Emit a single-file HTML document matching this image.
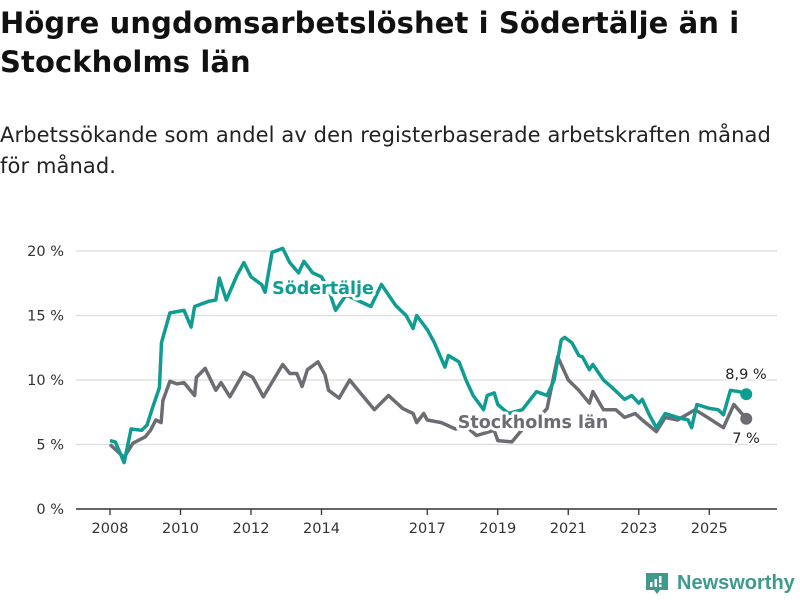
<!DOCTYPE html>
<html><head><meta charset="utf-8">
<style>
body{margin:0;background:#fff;width:800px;height:600px;overflow:hidden;font-family:"DejaVu Sans","Liberation Sans",sans-serif;}
h1{position:absolute;left:0;top:4px;margin:0;font-size:29px;line-height:39px;font-weight:bold;color:#111;letter-spacing:0.1px;}
.sub{position:absolute;left:0;top:120px;font-size:21px;line-height:31px;color:#222;letter-spacing:0.1px;}
svg{position:absolute;left:0;top:0;font-family:"DejaVu Sans","Liberation Sans",sans-serif;}
</style></head>
<body>
<h1>Högre ungdomsarbetslöshet i Södertälje än i<br>Stockholms län</h1>
<div class="sub">Arbetssökande som andel av den registerbaserade arbetskraften månad<br>för månad.</div>
<svg id="chart" width="800" height="600"></svg>
<script>
const yTicks=[0,5,10,15,20];
const yTickLabels=["0 %","5 %","10 %","15 %","20 %"];
const xTicks=[2008,2010,2012,2014,2017,2019,2021,2023,2025];
const sodDates=[2008.0,2008.15,2008.4,2008.6,2008.9,2009.05,2009.2,2009.4,2009.46,2009.7,2009.9,2010.1,2010.3,2010.4,2010.8,2011.0,2011.1,2011.3,2011.6,2011.8,2012.0,2012.1,2012.3,2012.4,2012.6,2012.9,2013.1,2013.35,2013.5,2013.75,2014.0,2014.2,2014.4,2014.7,2015.0,2015.4,2015.7,2016.1,2016.4,2016.6,2016.7,2017.0,2017.2,2017.5,2017.6,2017.9,2018.1,2018.3,2018.6,2018.7,2018.9,2019.0,2019.3,2019.7,2020.1,2020.4,2020.6,2020.8,2020.9,2021.1,2021.3,2021.4,2021.6,2021.7,2022.0,2022.25,2022.6,2022.8,2023.0,2023.1,2023.3,2023.5,2023.75,2024.1,2024.4,2024.5,2024.65,2025.0,2025.25,2025.4,2025.6,2025.85,2026.05];
const sodValues=[5.3,5.2,3.6,6.2,6.1,6.5,7.8,9.4,12.9,15.2,15.3,15.4,14.1,15.7,16.1,16.2,17.9,16.2,18.1,19.1,18.0,17.8,17.4,16.8,19.9,20.2,19.1,18.3,19.2,18.3,18.0,17.0,15.4,16.6,16.2,15.7,17.4,15.8,15.0,14.0,15.0,13.9,12.9,11.0,11.9,11.4,10.0,8.8,7.7,8.8,9.0,8.1,7.4,7.7,9.1,8.8,10.0,13.1,13.3,12.9,11.9,11.8,10.8,11.2,10.0,9.4,8.5,8.8,8.2,8.5,7.3,6.3,7.4,7.1,6.9,6.3,8.1,7.8,7.7,7.3,9.2,9.1,8.9];
const sthDates=[2008.0,2008.4,2008.65,2009.0,2009.15,2009.3,2009.45,2009.5,2009.7,2009.9,2010.1,2010.4,2010.45,2010.7,2011.0,2011.15,2011.4,2011.8,2012.05,2012.25,2012.35,2012.9,2013.1,2013.3,2013.45,2013.6,2013.9,2014.1,2014.2,2014.5,2014.8,2015.1,2015.5,2015.9,2016.3,2016.6,2016.7,2016.9,2017.0,2017.4,2017.8,2018.1,2018.4,2018.9,2019.0,2019.4,2019.8,2020.1,2020.4,2020.7,2021.0,2021.3,2021.6,2021.7,2022.0,2022.35,2022.6,2022.9,2023.1,2023.5,2023.75,2024.1,2024.6,2024.95,2025.4,2025.7,2026.05];
const sthValues=[5.0,4.0,5.1,5.6,6.1,6.9,6.7,8.4,9.9,9.7,9.8,8.8,10.2,10.9,9.2,9.8,8.7,10.6,10.2,9.2,8.7,11.2,10.5,10.5,9.5,10.8,11.4,10.4,9.2,8.6,10.0,9.0,7.7,8.8,7.8,7.4,6.7,7.4,6.9,6.7,6.2,6.4,5.7,6.1,5.3,5.2,6.5,6.9,7.8,11.8,10.0,9.2,8.2,9.1,7.7,7.7,7.1,7.4,6.9,6.0,7.1,6.9,7.7,7.1,6.3,8.1,7.0];

const svg=document.getElementById('chart');
const NS='http://www.w3.org/2000/svg';
const x=v=>110+(v-2008)*35.25;
const y=v=>509-v*12.9;
function mk(tag,attrs,parent){const e=document.createElementNS(NS,tag);for(const k in attrs)e.setAttribute(k,attrs[k]);(parent||svg).appendChild(e);return e;}

yTicks.forEach((t,i)=>{
  if(t>0){const g=mk('line',{x1:76,x2:777,y1:y(t),y2:y(t),stroke:'#dcdcdc','stroke-width':1.3});
  
  }
  const l=mk('text',{x:64,y:y(t)+5,'text-anchor':'end','font-size':14.5,fill:'#333'});
  l.textContent=yTickLabels[i];
  
  
});
const ax=mk('line',{x1:76,x2:777,y1:509,y2:509,stroke:'#333','stroke-width':1.5});


xTicks.forEach(t=>{
  mk('line',{x1:x(t),x2:x(t),y1:509,y2:515,stroke:'#333','stroke-width':1.3});
  const l=mk('text',{x:x(t),y:533,'text-anchor':'middle','font-size':14.5,fill:'#333'});
  l.textContent=t;
  
  
});
function line(d,v,c,name){
  const p=mk('path',{d:d.map((t,i)=>(i?'L':'M')+x(t).toFixed(1)+','+y(v[i]).toFixed(1)).join(''),fill:'none',stroke:c,'stroke-width':3.5,'stroke-linejoin':'round'});
  
  
  const dot=mk('circle',{cx:x(d[d.length-1]),cy:y(v[v.length-1]),r:6,fill:c});
  
  
}
line(sthDates,sthValues,'#6e6c73','stockholm-line');
line(sodDates,sodValues,'#0f9c92','sodertalje-line');
function lab(t,xx,yy,c,name,fs,bold,anchor){
  const e=mk('text',{x:xx,y:yy,'text-anchor':anchor||'middle','font-size':fs,fill:c,'font-weight':bold?'bold':'normal',stroke:'#fff','stroke-width':bold?6:4,'paint-order':'stroke','stroke-linejoin':'round'});
  e.textContent=t;
  
  
}
lab('Södertälje',323,294,'#0f9c92','sodertalje-label',17.5,true);
lab('Stockholms län',533,428,'#6e6c73','stockholm-label',17.5,true);
lab('8,9 %',746,379,'#222','sodertalje-end-value',14.5,false);
lab('7 %',746,443,'#222','stockholm-end-value',14.5,false);
</script>
<div style="position:absolute;left:645px;top:571px;height:24px;display:flex;align-items:center;">
  <svg width="24" height="24" style="position:static"><path d="M1 2h22v17h-8l-3 4-3-4H1z" fill="#3d9a8c"/><rect x="5" y="11" width="2.5" height="5" fill="#fff"/><rect x="9.5" y="8" width="2.5" height="8" fill="#fff"/><rect x="14" y="5" width="2.5" height="7" fill="#fff"/><rect x="14" y="13.5" width="2.5" height="2.5" fill="#fff"/></svg>
  <span style="margin-left:8px;font-size:20px;color:#3d9a8c;font-weight:bold;font-family:'Liberation Sans',sans-serif;">Newsworthy</span>
</div>
</body></html>
